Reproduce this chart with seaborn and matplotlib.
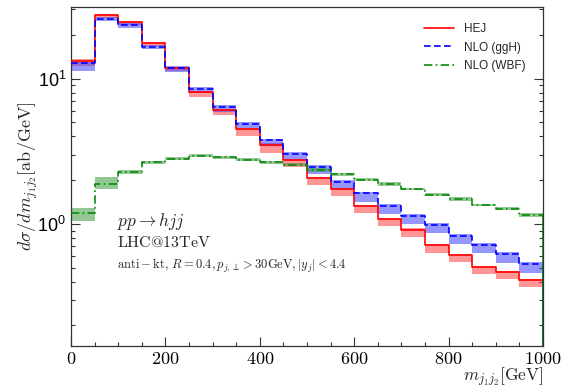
import numpy as np
import pandas as pd
import matplotlib
matplotlib.use("Agg")
import matplotlib.pyplot as plt
import matplotlib.ticker as mticker
import seaborn as sns

# ---- data ----
edges = [0, 50, 100, 150, 200, 250, 300, 350, 400, 450, 500,
         550, 600, 650, 700, 750, 800, 850, 900, 950, 1000]

hej = [13.3, 27.4, 24.6, 17.6, 11.9, 8.06, 6.04, 4.47, 3.48, 2.74,
       2.07, 1.74, 1.32, 1.08, 0.914, 0.71, 0.61, 0.505, 0.467, 0.41]
hej_hi = [13.6, 28.0, 25.0, 17.9, 12.1, 8.2, 6.15, 4.6, 3.58, 2.8,
          2.12, 1.78, 1.35, 1.1, 0.93, 0.725, 0.62, 0.515, 0.475, 0.415]
hej_lo = [12.2, 26.1, 23.4, 16.8, 11.3, 7.53, 5.6, 4.06, 3.1, 2.45,
          1.85, 1.55, 1.18, 0.965, 0.816, 0.634, 0.545, 0.451, 0.417, 0.366]

ggh = [12.8, 25.8, 23.4, 16.5, 11.8, 8.5, 6.36, 4.9, 3.76, 3.03,
       2.47, 1.95, 1.62, 1.33, 1.14, 0.984, 0.83, 0.72, 0.62, 0.53]
ggh_hi = [13.1, 26.6, 24.1, 17.0, 12.2, 8.75, 6.55, 5.05, 3.87, 3.12,
          2.54, 2.01, 1.67, 1.37, 1.17, 1.01, 0.855, 0.74, 0.64, 0.545]
ggh_lo = [11.3, 25.0, 22.5, 15.9, 11.2, 8.0, 5.94, 4.54, 3.42, 2.75,
          2.2, 1.73, 1.42, 1.17, 1.0, 0.863, 0.722, 0.626, 0.539, 0.461]

wbf = [1.18, 1.88, 2.28, 2.65, 2.82, 2.94, 2.88, 2.77, 2.65, 2.55,
       2.35, 2.19, 2.02, 1.88, 1.74, 1.59, 1.48, 1.35, 1.27, 1.15]
wbf_hi = [1.28, 2.10, 2.34, 2.72, 2.89, 3.01, 2.95, 2.84, 2.72, 2.61,
          2.41, 2.25, 2.07, 1.93, 1.78, 1.63, 1.52, 1.38, 1.30, 1.18]
wbf_lo = [1.055, 1.74, 2.22, 2.59, 2.75, 2.87, 2.81, 2.70, 2.59, 2.49,
          2.29, 2.14, 1.97, 1.83, 1.70, 1.55, 1.44, 1.32, 1.24, 1.12]

labels = ["HEJ", "NLO (ggH)", "NLO (WBF)"]
colors = {"HEJ": "#ff0000", "NLO (ggH)": "#0000ff", "NLO (WBF)": "#0a8a0a"}
band_colors = {"HEJ": "#ff4040", "NLO (ggH)": "#4040ff", "NLO (WBF)": "#3a9a3a"}
dashes = {"HEJ": "", "NLO (ggH)": (4, 2), "NLO (WBF)": (5, 2, 1, 2)}

series = {"HEJ": (hej, hej_lo, hej_hi),
          "NLO (ggH)": (ggh, ggh_lo, ggh_hi),
          "NLO (WBF)": (wbf, wbf_lo, wbf_hi)}

rows = []
for name, (c, lo, hi) in series.items():
    vals = list(c) + [c[-1]]
    for e, v in zip(edges, vals):
        rows.append({"m": e, "v": v, "series": name})
df = pd.DataFrame(rows)

# ---- style ----
sns.set_style("ticks")
plt.rcParams["mathtext.fontset"] = "cm"
plt.rcParams["font.family"] = ["Liberation Sans", "DejaVu Sans"]
plt.rcParams["axes.linewidth"] = 0.9
plt.rcParams["axes.edgecolor"] = "#333333"

fig = plt.figure(figsize=(5.61, 3.91), dpi=100)
ax = fig.add_axes([0.1266, 0.1159, 0.8414, 0.8654])
ax.set_yscale("log")
ymin, ymax = 0.145, 31.0

# bands
for name, (c, lo, hi) in series.items():
    ax.fill_between(edges, list(lo) + [lo[-1]], list(hi) + [hi[-1]],
                    step="post", color=band_colors[name], alpha=0.55,
                    linewidth=0, zorder=1)

sns.lineplot(data=df, x="m", y="v", hue="series", style="series",
             palette=colors, dashes=dashes, hue_order=labels,
             style_order=labels, drawstyle="steps-post", estimator=None,
             sort=False, linewidth=1.2, legend=False, ax=ax, zorder=3)

# histogram outline drops to the baseline at the last edge
for name, (c, lo, hi) in series.items():
    ax.vlines(edges[-1], ymin, c[-1], color=colors[name], linewidth=1.2,
              zorder=3)

ax.set_xlim(edges[0], edges[-1])
ax.set_ylim(ymin, ymax)

# ticks
ax.xaxis.set_major_locator(mticker.MultipleLocator(200))
ax.xaxis.set_minor_locator(mticker.MultipleLocator(50))
ax.xaxis.set_major_formatter(mticker.FuncFormatter(lambda x, p: f"${x:g}$"))
ax.yaxis.set_minor_formatter(mticker.NullFormatter())
ax.tick_params(which="both", direction="in", right=True, top=False,
               colors="#333333", labelcolor="black", width=0.8)
ax.tick_params(which="major", length=6.5, labelsize=13)
ax.tick_params(which="minor", length=3.2)
for sp in ["top", "right"]:
    ax.spines[sp].set_visible(True)

ax.set_xlabel(r"$m_{j_1j_2}[\mathrm{GeV}]$", fontsize=12.5, loc="right",
              labelpad=-1)
ax.set_ylabel(r"$d\sigma/dm_{j_1j_2}[\mathrm{ab/GeV}]$", fontsize=13,
              labelpad=-2)

# annotations
ax.text(0.0975, 0.366, r"$pp\rightarrow hjj$", transform=ax.transAxes,
        fontsize=12.5, va="center", ha="left")
ax.text(0.0975, 0.304, r"$\mathrm{LHC@13TeV}$", transform=ax.transAxes,
        fontsize=11.5, va="center", ha="left")
ax.text(0.0975, 0.236,
        r"$\mathrm{anti-kt},\,R=0.4,p_{j,\perp}>30\mathrm{GeV},|y_j|<4.4$",
        transform=ax.transAxes, fontsize=9.0, va="center", ha="left")

# legend
handles = []
for n in labels:
    h = matplotlib.lines.Line2D([], [], color=colors[n], linewidth=1.2)
    if dashes[n]:
        h.set_dashes(dashes[n])
    handles.append(h)
leg = ax.legend(handles, labels, loc="upper right", frameon=False,
                fontsize=8.5, handlelength=2.6, handletextpad=0.8,
                labelspacing=0.55, bbox_to_anchor=(0.985, 0.985))

fig.savefig("out.png", dpi=100)
